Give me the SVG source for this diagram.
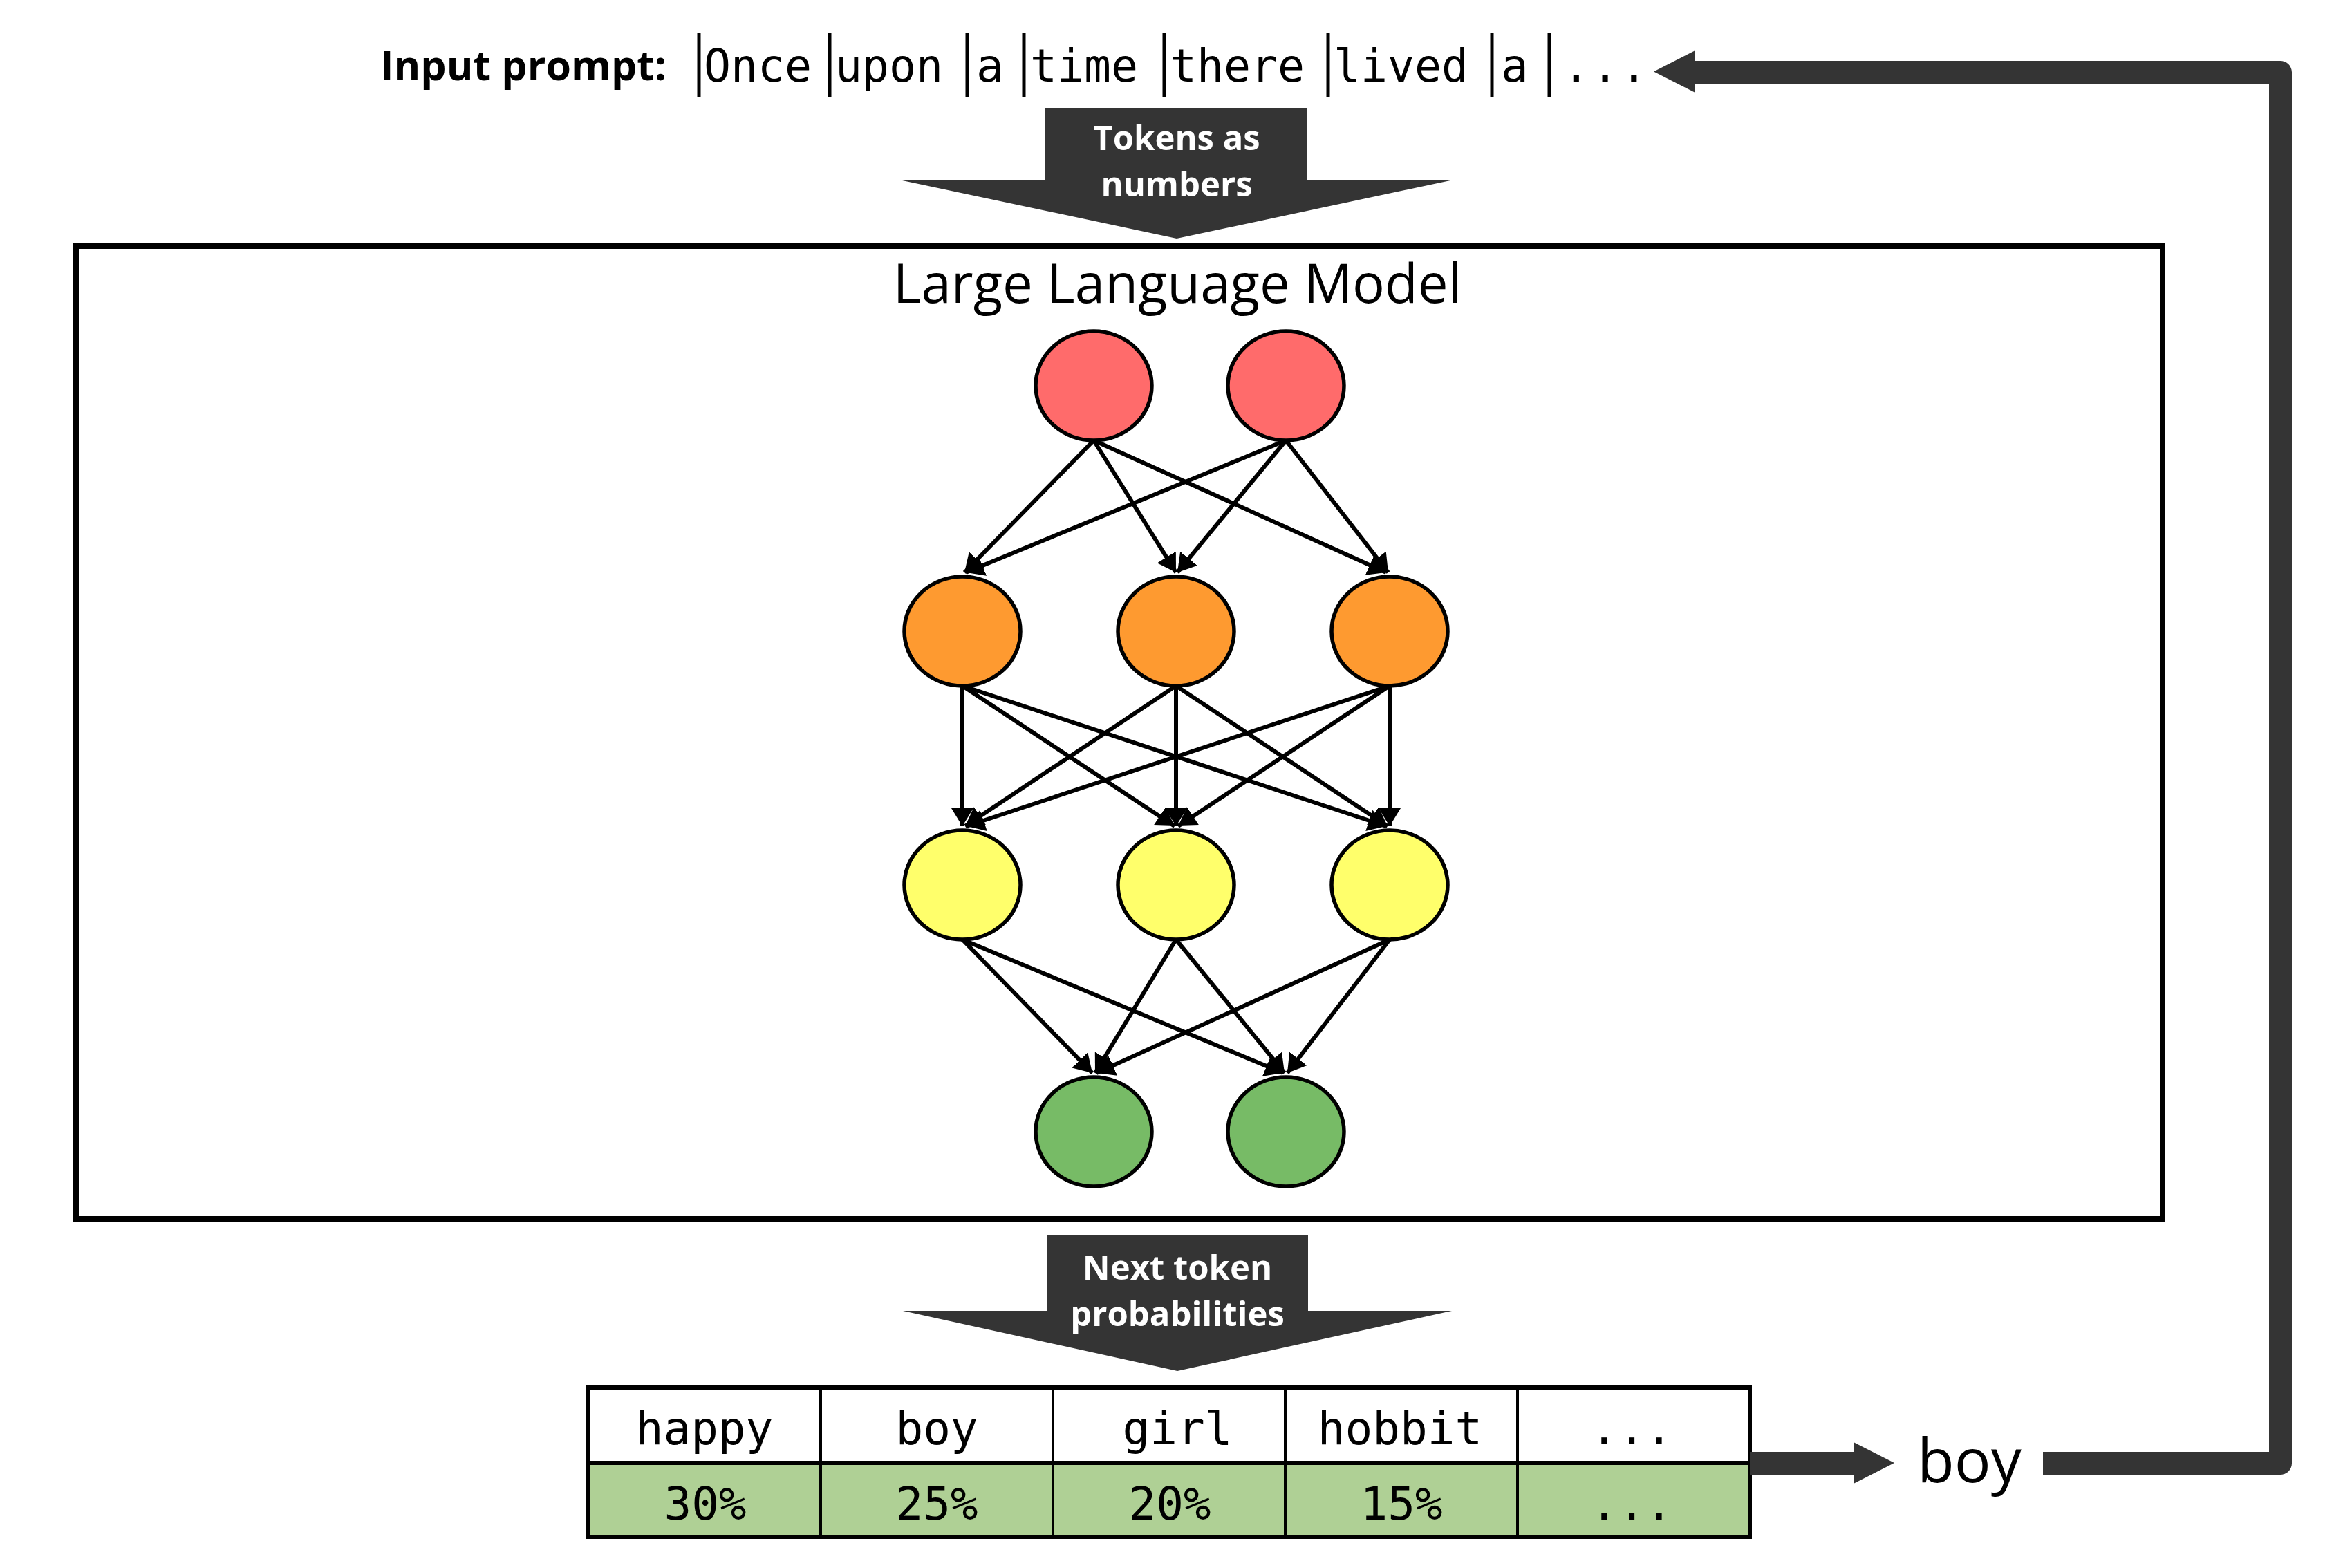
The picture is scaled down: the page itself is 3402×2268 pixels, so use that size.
<svg xmlns="http://www.w3.org/2000/svg" width="3402" height="2268" viewBox="0 0 3402 2268">
<style>
.lbl{font-family:"Open Sans","Noto Sans",sans-serif;font-weight:bold;}
.wlbl{font-family:"Open Sans","Noto Sans",sans-serif;font-weight:bold;fill:#ffffff;font-size:49px;text-anchor:middle;}
.mono{font-family:"DejaVu Sans Mono","Liberation Mono",monospace;font-size:66px;fill:#000;}
.cell{font-family:"DejaVu Sans Mono","Liberation Mono",monospace;font-size:66px;fill:#000;text-anchor:middle;}
.sep{stroke:#000;stroke-width:5;}
.neuron{stroke:#000;stroke-width:5.5;}
.edge{stroke:#000;stroke-width:6;fill:none;marker-end:url(#ah);}
.dark{fill:#343434;}
</style>
<defs>
<marker id="ah" markerUnits="userSpaceOnUse" viewBox="0 0 26 32" refX="26" refY="16" markerWidth="26" markerHeight="32" orient="auto">
<path d="M0,0 L26,16 L0,32 Z" fill="#000"/>
</marker>
</defs>
<rect width="3402" height="2268" fill="#ffffff"/>

<g id="input-prompt">
<text class="lbl" x="550" y="116" font-size="59">Input prompt:</text>
<line class="sep" x1="1011" y1="48" x2="1011" y2="140"/>
<text class="mono" x="1018" y="118" textLength="156" lengthAdjust="spacingAndGlyphs">Once</text>
<line class="sep" x1="1200" y1="48" x2="1200" y2="140"/>
<text class="mono" x="1208" y="118" textLength="156" lengthAdjust="spacingAndGlyphs">upon</text>
<line class="sep" x1="1399" y1="48" x2="1399" y2="140"/>
<text class="mono" x="1412" y="118">a</text>
<line class="sep" x1="1481" y1="48" x2="1481" y2="140"/>
<text class="mono" x="1490" y="118" textLength="156" lengthAdjust="spacingAndGlyphs">time</text>
<line class="sep" x1="1684" y1="48" x2="1684" y2="140"/>
<text class="mono" x="1692" y="118" textLength="195" lengthAdjust="spacingAndGlyphs">there</text>
<line class="sep" x1="1921" y1="48" x2="1921" y2="140"/>
<text class="mono" x="1929" y="118" textLength="195" lengthAdjust="spacingAndGlyphs">lived</text>
<line class="sep" x1="2158" y1="48" x2="2158" y2="140"/>
<text class="mono" x="2171" y="118">a</text>
<line class="sep" x1="2241" y1="48" x2="2241" y2="140"/>
<text class="mono" x="2260" y="118" letter-spacing="2">...</text>
</g>

<g id="tokens-arrow">
<polygon class="dark" points="1512,156 1891,156 1891,261 2098,261 1702,345 1305,261 1512,261"/>
<text class="wlbl" x="1702" y="217">Tokens as</text>
<text class="wlbl" x="1702" y="284">numbers</text>
</g>

<g id="llm">
<rect x="110" y="356" width="3018" height="1407" fill="none" stroke="#000" stroke-width="8"/>
<text x="1703" y="438" font-family="Open Sans, Noto Sans, sans-serif" font-size="78" text-anchor="middle" fill="#000">Large Language Model</text>
</g>

<g id="connectors">
<line class="edge" x1="1582" y1="637" x2="1395" y2="828"/>
<line class="edge" x1="1582" y1="637" x2="1701" y2="828"/>
<line class="edge" x1="1582" y1="637" x2="2005" y2="828"/>
<line class="edge" x1="1860" y1="637" x2="1397" y2="828"/>
<line class="edge" x1="1860" y1="637" x2="1703" y2="828"/>
<line class="edge" x1="1860" y1="637" x2="2008" y2="828"/>

<line class="edge" x1="1392" y1="992" x2="1392" y2="1195"/>
<line class="edge" x1="1392" y1="992" x2="1699" y2="1195"/>
<line class="edge" x1="1392" y1="992" x2="2005" y2="1195"/>
<line class="edge" x1="1701" y1="992" x2="1396" y2="1195"/>
<line class="edge" x1="1701" y1="992" x2="1701" y2="1195"/>
<line class="edge" x1="1701" y1="992" x2="2007" y2="1195"/>
<line class="edge" x1="2010" y1="992" x2="1398" y2="1195"/>
<line class="edge" x1="2010" y1="992" x2="1704" y2="1195"/>
<line class="edge" x1="2010" y1="992" x2="2010" y2="1195"/>

<line class="edge" x1="1392" y1="1359" x2="1580" y2="1552"/>
<line class="edge" x1="1392" y1="1359" x2="1856" y2="1552"/>
<line class="edge" x1="1701" y1="1359" x2="1584" y2="1552"/>
<line class="edge" x1="1701" y1="1359" x2="1858" y2="1552"/>
<line class="edge" x1="2010" y1="1359" x2="1586" y2="1552"/>
<line class="edge" x1="2010" y1="1359" x2="1862" y2="1552"/>
</g>

<g id="n-in-1"><ellipse class="neuron" cx="1582" cy="558" rx="84" ry="79" fill="#FF6B6B"/></g>
<g id="n-in-2"><ellipse class="neuron" cx="1860" cy="558" rx="84" ry="79" fill="#FF6B6B"/></g>
<g id="n-h1-1"><ellipse class="neuron" cx="1392" cy="913" rx="84" ry="79" fill="#FE9A30"/></g>
<g id="n-h1-2"><ellipse class="neuron" cx="1701" cy="913" rx="84" ry="79" fill="#FE9A30"/></g>
<g id="n-h1-3"><ellipse class="neuron" cx="2010" cy="913" rx="84" ry="79" fill="#FE9A30"/></g>
<g id="n-h2-1"><ellipse class="neuron" cx="1392" cy="1280" rx="84" ry="79" fill="#FFFF6B"/></g>
<g id="n-h2-2"><ellipse class="neuron" cx="1701" cy="1280" rx="84" ry="79" fill="#FFFF6B"/></g>
<g id="n-h2-3"><ellipse class="neuron" cx="2010" cy="1280" rx="84" ry="79" fill="#FFFF6B"/></g>
<g id="n-out-1"><ellipse class="neuron" cx="1582" cy="1637" rx="84" ry="79" fill="#77BB66"/></g>
<g id="n-out-2"><ellipse class="neuron" cx="1860" cy="1637" rx="84" ry="79" fill="#77BB66"/></g>

<g id="probs-arrow">
<polygon class="dark" points="1514,1786 1892,1786 1892,1896 2100,1896 1703,1983 1306,1896 1514,1896"/>
<text class="wlbl" x="1703" y="1851">Next token</text>
<text class="wlbl" x="1703" y="1918">probabilities</text>
</g>

<g id="prob-table">
<rect x="851" y="2116" width="1680" height="107" fill="#AFD095"/>
<line x1="1187" y1="2007" x2="1187" y2="2223" stroke="#000" stroke-width="4"/>
<line x1="1523" y1="2007" x2="1523" y2="2223" stroke="#000" stroke-width="4"/>
<line x1="1859" y1="2007" x2="1859" y2="2223" stroke="#000" stroke-width="4"/>
<line x1="2195" y1="2007" x2="2195" y2="2223" stroke="#000" stroke-width="4"/>
<line x1="851" y1="2116" x2="2531" y2="2116" stroke="#000" stroke-width="6"/>
<rect x="851" y="2007" width="1680" height="216" fill="none" stroke="#000" stroke-width="6"/>
<text class="cell" x="1019" y="2089">happy</text>
<text class="cell" x="1355" y="2089">boy</text>
<text class="cell" x="1703" y="2089">girl</text>
<text class="cell" x="2025" y="2089">hobbit</text>
<text class="cell" x="2360" y="2089">...</text>
<text class="cell" x="1020" y="2198">30%</text>
<text class="cell" x="1355" y="2198">25%</text>
<text class="cell" x="1692" y="2198">20%</text>
<text class="cell" x="2027" y="2198">15%</text>
<text class="cell" x="2360" y="2198">...</text>
</g>

<g id="selected-token">
<polygon class="dark" points="2531,2100 2681,2100 2681,2086 2740,2116 2681,2146 2681,2133 2531,2133"/>
<text x="2773" y="2144" font-family="Open Sans, Noto Sans, sans-serif" font-size="88" fill="#000">boy</text>
</g>

<g id="feedback">
<path d="M2955,2116.5 H3298.5 V104.5 H2450" fill="none" stroke="#343434" stroke-width="33" stroke-linejoin="round"/>
<polygon class="dark" points="2452,73 2392,103.5 2452,134"/>
</g>
</svg>
